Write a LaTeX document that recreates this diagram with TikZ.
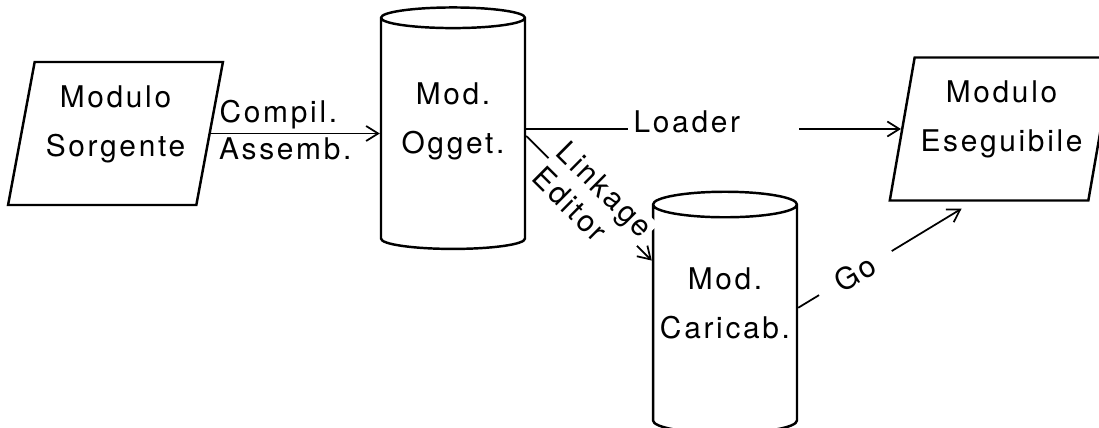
\documentclass[tikz,border=0pt]{standalone}
\usepackage{fontspec}
\setmainfont{TeX Gyre Heros}[LetterSpace=9]
\usetikzlibrary{arrows.meta, positioning, shapes.geometric, calc}
% extra depth under the last line lifts the text inside a box
\newcommand{\sink}[1]{\rule[-#1]{0pt}{0pt}}
\tikzset{
    modbox/.style={trapezium, draw, line width=1.4pt,
      trapezium left angle=77, trapezium right angle=103,
      trapezium stretches=true, minimum width=4.3cm, minimum height=2.86cm,
      align=center},
    disk/.style={cylinder, draw, line width=1.4pt, shape border rotate=90,
      aspect=0.18, minimum width=2.88cm, minimum height=4.83cm, align=center},
    flow/.style={line width=1pt, -{Straight Barb[length=2.4mm, width=3mm]}},
    every node/.append style={font=\fontsize{17}{28}\selectfont},
}

\begin{document}
\begin{tikzpicture}[x=0.02cm, y=-0.02cm]
    \useasboundingbox (0,0) rectangle (1099,428);

    \node[modbox] (src) at (115.5,133.5) {Modulo\\Sorgente\sink{0.5cm}};
    \node[disk] (obj) at (453,136) {Mod.\\Ogget.\sink{0.7cm}};
    \node[disk] (load) at (725,322) {Mod.\\Caricab.\sink{0.75cm}};
    \node[modbox] (exe) at (1001.5,129) {Modulo\\Eseguibile\sink{0.5cm}};

    \draw[flow] (src.east) -- node[pos=0.4, above, inner sep=2pt]{Compil.}
                         node[pos=0.44, below, inner sep=2pt]{Assemb.}
                         (src.east -| obj.west);
    \draw[flow] (obj.east |- exe.west) -- node[pos=0.5, fill=white, yshift=0.15cm,
                              text width=3.2cm, align=left]{Loader} (exe.west);
    \draw[flow] (obj.east) -- node[pos=0.53, sloped, fill=white, align=left,
                              inner sep=1pt, font=\fontsize{17}{20}\selectfont]
                              {Linkage\\Editor} (load.140);
    \draw[flow] (load.11) -- node[pos=0.35, sloped, fill=white,
                              inner xsep=12pt]{Go} ($(exe.south)+(-40,7)$);
\end{tikzpicture}
\end{document}
